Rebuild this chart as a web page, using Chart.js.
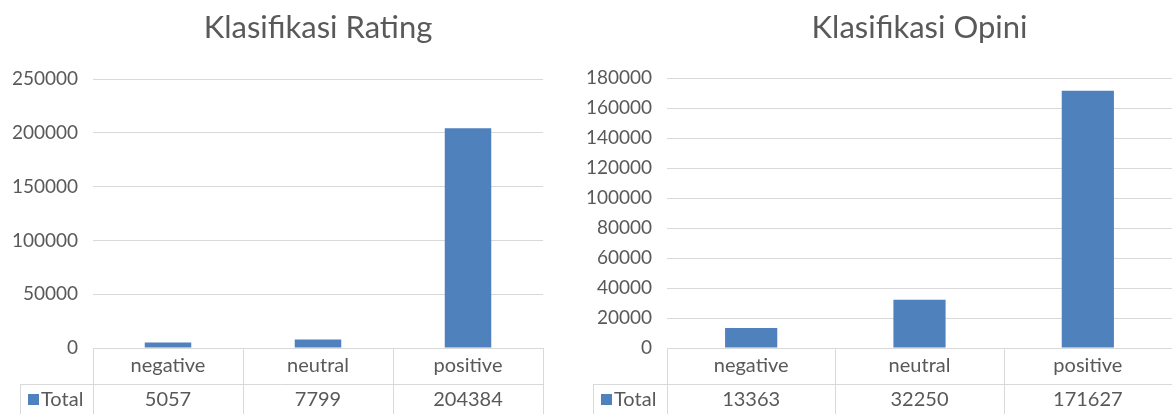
<!DOCTYPE html>
<html>
<head>
<meta charset="utf-8">
<script src="https://cdn.jsdelivr.net/npm/chart.js@4.4.0/dist/chart.umd.min.js"></script>
<style>
    html, body { margin: 0; padding: 0; background: #fff; }
    .box { position: absolute; top: 0; height: 414px; }
    #leftBox { left: 0; width: 560px; }
    #rightBox { left: 570px; width: 602px; }
</style>
</head>
<body>
<div class="box" id="leftBox"><canvas id="ratingChart"></canvas></div>
<div class="box" id="rightBox"><canvas id="opiniChart"></canvas></div>
<script>
// Shared categories
const categories = ['negative', 'neutral', 'positive'];
const seriesName = 'Total';

// Klasifikasi Rating
const ratingTitle = 'Klasifikasi Rating';
const ratingValues = [5057, 7799, 204384];
const ratingMax = 250000;
const ratingStep = 50000;

// Klasifikasi Opini
const opiniTitle = 'Klasifikasi Opini';
const opiniValues = [13363, 32250, 171627];
const opiniMax = 180000;
const opiniStep = 20000;

const TEXT = '#595959';
const GRID = '#D9D9D9';
const BAR = '#4F81BD';
const FONT = 'Lato, "Open Sans", sans-serif';

// Draws the data table (category borders + Total row) under the plot
const dataTablePlugin = {
    id: 'dataTable',
    afterDraw(chart, args, opts) {
        const ctx = chart.ctx;
        const x = chart.scales.x;
        const area = chart.chartArea;
        const n = chart.data.labels.length;
        const colW = (area.right - area.left) / n;
        const rowTop = x.bottom;
        const bottom = chart.height;

        ctx.save();
        ctx.strokeStyle = GRID;
        ctx.lineWidth = 1;
        ctx.beginPath();
        // column borders
        for (let i = 0; i <= n; i++) {
            const px = Math.round(area.left + i * colW) + 0.5;
            ctx.moveTo(px, area.bottom);
            ctx.lineTo(px, bottom);
        }
        // row separator and legend cell border
        ctx.moveTo(opts.legendLeft, Math.round(rowTop) + 0.5);
        ctx.lineTo(area.right, Math.round(rowTop) + 0.5);
        ctx.moveTo(opts.legendLeft + 0.5, rowTop);
        ctx.lineTo(opts.legendLeft + 0.5, bottom);
        ctx.stroke();

        // legend key
        const midY = rowTop + (bottom - rowTop) / 2;
        ctx.fillStyle = BAR;
        ctx.fillRect(opts.legendLeft + 8, midY - 5, 11, 11);
        ctx.fillStyle = TEXT;
        ctx.font = '20px ' + FONT;
        ctx.textBaseline = 'middle';
        ctx.textAlign = 'left';
        ctx.fillText(seriesName, opts.legendLeft + 21, midY + 1);

        // values
        ctx.textAlign = 'center';
        chart.data.datasets[0].data.forEach((v, i) => {
            ctx.fillText(String(v), x.getPixelForValue(i), midY + 1);
        });
        ctx.restore();
    }
};

function createClassChart(id, title, values, yMax, yStep, yWidth, titleBottom, legendLeft) {
    const ctx = document.getElementById(id).getContext('2d');
    return new Chart(ctx, {
        type: 'bar',
        data: {
            labels: categories,
            datasets: [{
                label: seriesName,
                data: values,
                backgroundColor: BAR,
                borderWidth: 0,
                categoryPercentage: 1,
                barPercentage: 0.31
            }]
        },
        options: {
            responsive: true,
            maintainAspectRatio: false,
            animation: false,
            layout: { padding: { left: 0, right: id === 'ratingChart' ? 17 : 0, top: 0, bottom: 30 } },
            plugins: {
                legend: { display: false },
                tooltip: { enabled: false },
                title: {
                    display: true,
                    text: title,
                    fullSize: false,
                    color: TEXT,
                    font: { family: FONT, size: 31, weight: 'normal' },
                    padding: { top: 9, bottom: titleBottom }
                },
                dataTable: { legendLeft: legendLeft }
            },
            scales: {
                x: {
                    grid: { display: false, drawTicks: false },
                    border: { display: false },
                    ticks: { color: TEXT, padding: 6, font: { family: FONT, size: 20 } },
                    afterFit(scale) { scale.height = 36; }
                },
                y: {
                    min: 0,
                    max: yMax,
                    grid: { color: GRID, drawTicks: false },
                    border: { display: false },
                    ticks: {
                        stepSize: yStep,
                        color: TEXT,
                        padding: 15,
                        font: { family: FONT, size: 19 },
                        callback: v => String(v)
                    },
                    afterFit(scale) { scale.width = yWidth; }
                }
            }
        },
        plugins: [dataTablePlugin]
    });
}

createClassChart('ratingChart', ratingTitle, ratingValues, ratingMax, ratingStep, 93, 33, 20);
createClassChart('opiniChart', opiniTitle, opiniValues, opiniMax, opiniStep, 97, 32, 23);
</script>
</body>
</html>
